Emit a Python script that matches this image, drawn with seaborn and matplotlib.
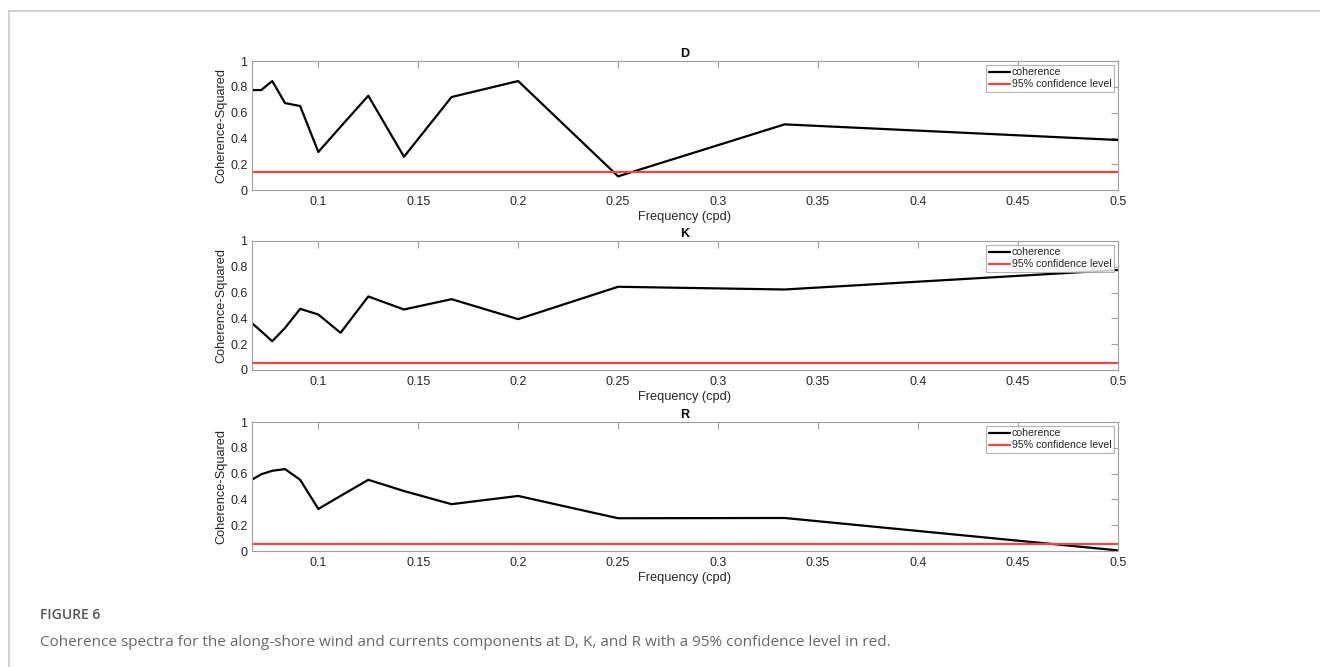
import matplotlib
matplotlib.use('Agg')
import matplotlib.pyplot as plt
import pandas as pd
import seaborn as sns
from matplotlib.lines import Line2D

sns.set_style('white')
plt.rcParams['font.family'] = ['Liberation Sans', 'DejaVu Sans']

# frequencies are 1/n cycles per day, n = 15 ... 2
freq = [1/15, 1/14, 1/13, 1/12, 1/11, 1/10, 1/9, 1/8, 1/7, 1/6, 1/5, 1/4, 1/3, 1/2]
coh_d = [0.775, 0.775, 0.845, 0.674, 0.651, 0.295, 0.49, 0.731, 0.258, 0.721, 0.845, 0.106, 0.509, 0.388]
coh_k = [0.365, 0.30, 0.223, 0.326, 0.474, 0.43, 0.288, 0.570, 0.469, 0.549, 0.394, 0.645, 0.624, 0.775]
coh_r = [0.552, 0.595, 0.622, 0.635, 0.552, 0.326, 0.427, 0.552, 0.465, 0.363, 0.427, 0.254, 0.256, 0.005]
conf = {'D': 0.14, 'K': 0.057, 'R': 0.054}
stations = ['D', 'K', 'R']
xticks = [0.1, 0.15, 0.2, 0.25, 0.3, 0.35, 0.4, 0.45, 0.5]
yticks = [0, 0.2, 0.4, 0.6, 0.8, 1]

df = pd.DataFrame({'freq': freq * 3,
                   'coherence': coh_d + coh_k + coh_r,
                   'station': sum([[s] * len(freq) for s in stations], [])})

fig = plt.figure(figsize=(13.2, 6.67), dpi=100)

# page frame lines (light gray) like the source figure
fig.add_artist(Line2D([9/1320, 1], [1 - 11/667] * 2, color='#c8c8c8', lw=1.2))
fig.add_artist(Line2D([9/1320] * 2, [0, 1 - 11/667], color='#c8c8c8', lw=1.2))

red = '#f04646'
txt = '#262626'
boxes = [(0.1907, 0.7151), (0.1907, 0.4453), (0.1907, 0.1739)]
for (x0, y0), st in zip(boxes, stations):
    ax = fig.add_axes([x0, y0, 0.656, 0.1934])
    sub = df[df['station'] == st]
    sns.lineplot(sub, x='freq', y='coherence', color='black', lw=1.6, sort=False, ax=ax)
    ax.axhline(conf[st], color=red, lw=1.6)
    ax.set_xlim(1/15, 0.5)
    ax.set_ylim(0, 1)
    ax.set_xticks(xticks)
    ax.set_xticklabels([f'{t:g}' for t in xticks])
    ax.set_yticks(yticks)
    ax.set_yticklabels([f'{t:g}' for t in yticks])
    ax.tick_params(direction='in', length=5, width=0.8, colors='#a0a0a0',
                   labelcolor=txt, labelsize=9, top=True, right=True, pad=3)
    ax.tick_params(axis='x', pad=4.5)
    for sp in ax.spines.values():
        sp.set_color('#a0a0a0')
        sp.set_linewidth(0.8)
    ax.set_title(st, fontsize=9, fontweight='bold', color='black', pad=3)
    ax.set_xlabel('Frequency (cpd)', fontsize=9.2, color=txt, labelpad=2)
    ax.set_ylabel('Coherence-Squared', fontsize=9.2, color=txt, labelpad=2)
    handles = [Line2D([], [], color='black', lw=1.6), Line2D([], [], color=red, lw=1.6)]
    leg = ax.legend(handles, ['coherence', '95% confidence level'], loc='upper right',
                    fontsize=7.6, frameon=True, fancybox=False, handlelength=2.0,
                    handletextpad=0.15, borderpad=0.25, labelspacing=0.2,
                    borderaxespad=0.35)
    leg.get_frame().set_edgecolor('#a0a0a0')
    leg.get_frame().set_linewidth(0.8)

fig.text(40/1320, 1 - 615/667, 'FIGURE 6', fontsize=10, color='#555555',
         family=['Open Sans', 'DejaVu Sans'], fontweight='semibold', va='center')
fig.text(40/1320, 1 - 642/667,
         'Coherence spectra for the along-shore wind and currents components at D, K, and R with a 95% confidence level in red.',
         fontsize=11, color='#666666', family=['Open Sans', 'DejaVu Sans'], va='center')

fig.savefig('out.png', dpi=100)
